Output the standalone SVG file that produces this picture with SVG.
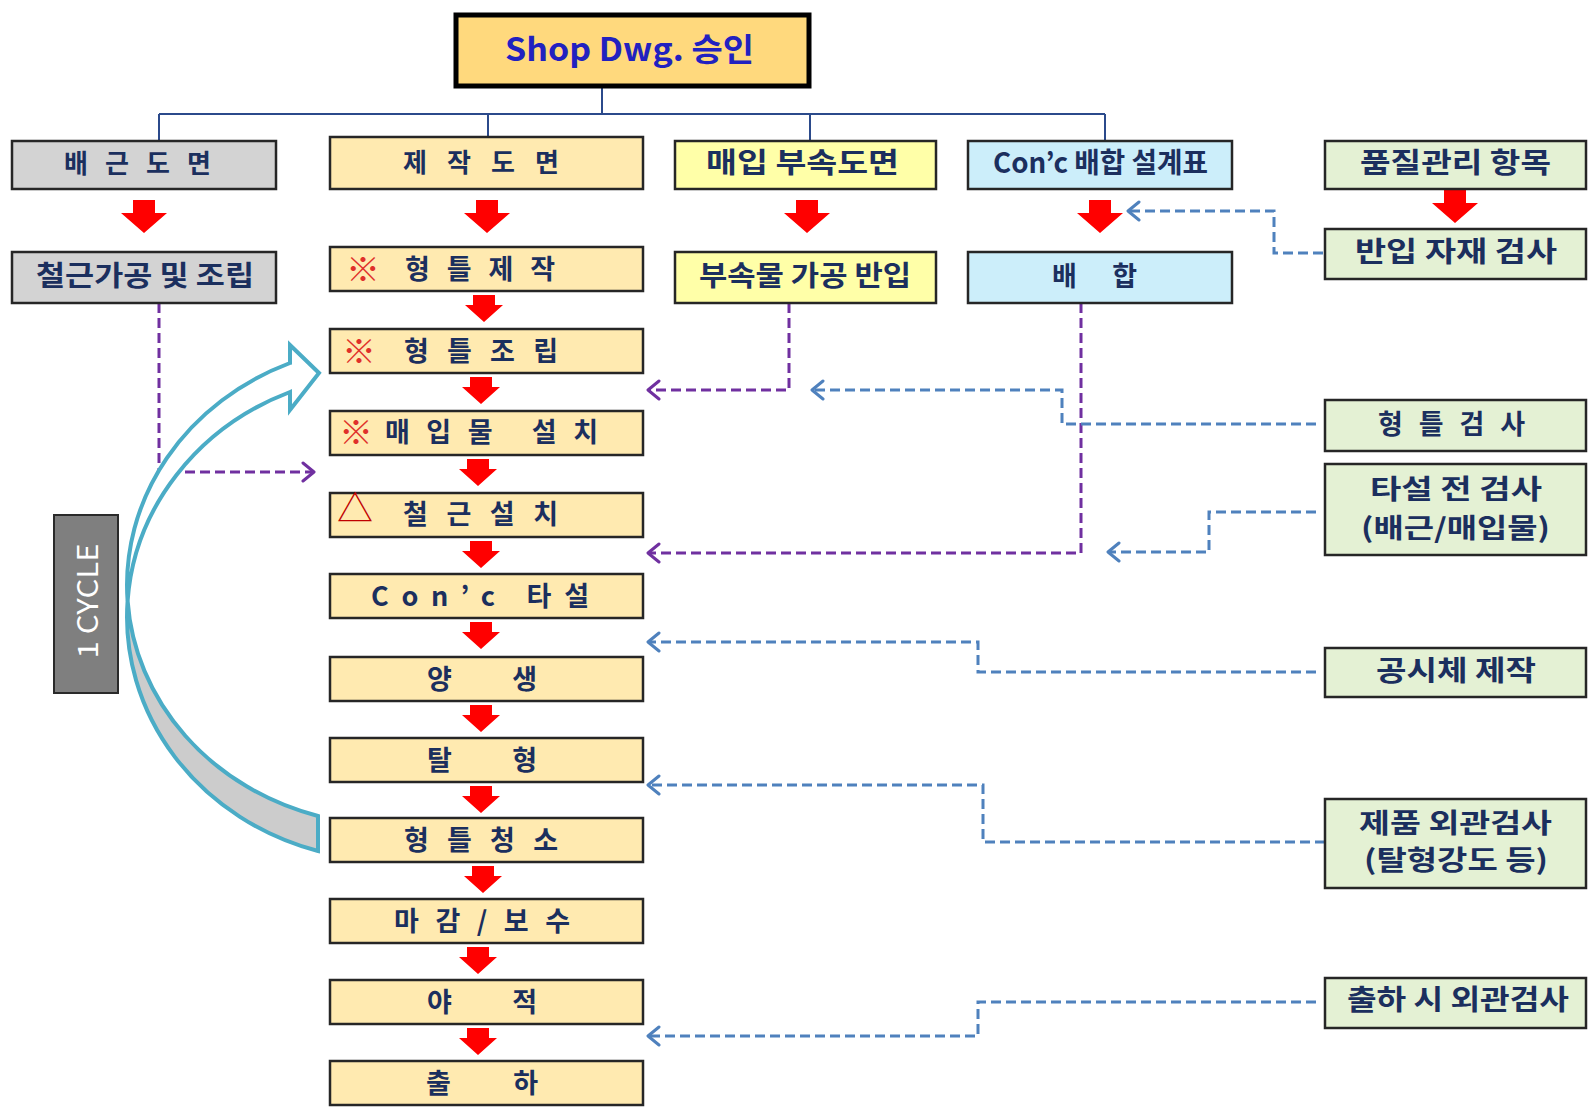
<svg xmlns="http://www.w3.org/2000/svg" width="1592" height="1110" viewBox="0 0 1592 1110">
  <defs>
    <style>
      .box{stroke:#262626;stroke-width:2.5}
      .gray{fill:#D3D3D3}
      .orange{fill:#FFEAB0}
      .yellow{fill:#FFFFA8}
      .sky{fill:#CCEEFA}
      .green{fill:#E4F1D4}
      .t{font-family:"Noto Sans CJK KR","Noto Sans",sans-serif;font-weight:700;fill:#1B2F5E;dominant-baseline:central;text-anchor:start}
      .mk{font-family:"Noto Sans CJK KR","Noto Sans",sans-serif;font-weight:400;dominant-baseline:central;text-anchor:middle}
      .tree{fill:none;stroke:#2B4A8B;stroke-width:2}
      .blue{fill:none;stroke:#4F81BD;stroke-width:3;stroke-dasharray:10 5}
      .purple{fill:none;stroke:#7030A0;stroke-width:3;stroke-dasharray:10 5}
    </style>
    <marker id="hb" markerUnits="userSpaceOnUse" markerWidth="16" markerHeight="22" refX="13" refY="11" orient="auto">
      <path d="M2,2 L13,11 L2,20" fill="none" stroke="#4F81BD" stroke-width="3" stroke-linejoin="round" stroke-linecap="round"/>
    </marker>
    <marker id="hp" markerUnits="userSpaceOnUse" markerWidth="16" markerHeight="22" refX="13" refY="11" orient="auto">
      <path d="M2,2 L13,11 L2,20" fill="none" stroke="#7030A0" stroke-width="3" stroke-linejoin="round" stroke-linecap="round"/>
    </marker>
    <!-- red block arrows: small for the process column, large for the header rows -->
    <path id="arrS" fill="#FF0000" d="M-11,0 H11 V10 H19 L0,27 L-19,10 H-11 Z"/>
    <path id="arrL" fill="#FF0000" d="M-11,0 H11 V13 H23 L0,33 L-23,13 H-11 Z"/>
  </defs>

  <rect width="1592" height="1110" fill="#FFFFFF"/>

  <!-- connectors -->
  <g id="connectors">
    <path class="tree" d="M602,88 V114 M159,114 H1105 M159,114 V141 M488,114 V137 M810,114 V141 M1105,114 V141"/>
    <!-- drawing / material feeds -->
    <path class="purple" marker-end="url(#hp)" d="M159,303 V472 H314"/>
    <path class="purple" marker-end="url(#hp)" d="M789,303 V390 H648"/>
    <path class="purple" marker-end="url(#hp)" d="M1081,303 V553 H648"/>
    <!-- quality checks -->
    <path class="blue" marker-end="url(#hb)" d="M1323,253 H1274 V211 H1128"/>
    <path class="blue" marker-end="url(#hb)" d="M1316,424 H1062 V390 H812"/>
    <path class="blue" marker-end="url(#hb)" d="M1316,512 H1209 V552 H1108"/>
    <path class="blue" marker-end="url(#hb)" d="M1316,672 H978 V642 H648"/>
    <path class="blue" marker-end="url(#hb)" d="M1325,842 H983 V785 H648"/>
    <path class="blue" marker-end="url(#hb)" d="M1316,1002 H978 V1036 H648"/>
    <!-- flow arrows -->
    <use href="#arrL" x="144" y="200"/>
    <use href="#arrL" x="487" y="200"/>
    <use href="#arrL" x="807" y="200"/>
    <use href="#arrL" x="1100" y="200"/>
    <use href="#arrL" x="1455" y="190"/>
    <use href="#arrS" x="484" y="295"/>
    <use href="#arrS" x="481" y="377"/>
    <use href="#arrS" x="478" y="459"/>
    <use href="#arrS" x="481" y="541"/>
    <use href="#arrS" x="481" y="622"/>
    <use href="#arrS" x="481" y="705"/>
    <use href="#arrS" x="481" y="786"/>
    <use href="#arrS" x="483" y="866"/>
    <use href="#arrS" x="478" y="947"/>
    <use href="#arrS" x="478" y="1028"/>
  </g>

  <!-- cycle return arrow: back band (gray) then front band with head -->
  <g id="cycle-arrow" stroke="#4BACC6" stroke-width="4" stroke-linejoin="miter">
    <path fill="#CCCCCC" d="M127.6,600.9 A263,240.1 0 0 0 318,816 L318,851 A263,243.3 0 0 1 127.6,600.9 Z"/>
    <path fill="#FFFFFF" d="M127.6,600.9 A263,240.1 0 0 1 290,363 L290,345 L319,373 L290,410 L290,392 A263,243.3 0 0 0 127.6,600.9 Z"/>
  </g>

  <g id="cycle-label">
    <rect x="54" y="515" width="64" height="178" fill="#7F7F7F" stroke="#2A2A2A" stroke-width="2"/>
    <text class="mk" x="86" y="601" font-size="28" fill="#FFFFFF" textLength="115" lengthAdjust="spacingAndGlyphs" transform="rotate(-90 86 601)">1 CYCLE</text>
  </g>

  <!-- header -->
  <g id="shop-dwg">
    <rect x="456" y="15" width="353" height="71" fill="#FFD97D" stroke="#000000" stroke-width="5"/>
    <text class="t" x="505" y="47" font-size="32" style="fill:#2121C0" textLength="249" lengthAdjust="spacingAndGlyphs">Shop Dwg. 승인</text>
  </g>

  <!-- top row -->
  <g id="rebar-dwg">
    <rect class="box gray" x="12" y="141" width="264" height="48"/>
    <text class="t" x="64" y="161" font-size="26" textLength="147" lengthAdjust="spacing">배근도면</text>
  </g>
  <g id="fab-dwg">
    <rect class="box orange" x="330" y="137" width="313" height="52"/>
    <text class="t" x="403" y="160" font-size="26" textLength="156" lengthAdjust="spacing">제작도면</text>
  </g>
  <g id="insert-dwg">
    <rect class="box yellow" x="675" y="141" width="261" height="48"/>
    <text class="t" x="706" y="161" font-size="28" textLength="193" lengthAdjust="spacingAndGlyphs">매입 부속도면</text>
  </g>
  <g id="mix-design">
    <rect class="box sky" x="968" y="141" width="264" height="48"/>
    <text class="t" x="993" y="161" font-size="28" textLength="215" lengthAdjust="spacingAndGlyphs">Con’c 배합 설계표</text>
  </g>
  <g id="qc-items">
    <rect class="box green" x="1325" y="141" width="261" height="48"/>
    <text class="t" x="1360" y="161" font-size="28" textLength="191" lengthAdjust="spacingAndGlyphs">품질관리 항목</text>
  </g>

  <!-- second row -->
  <g id="rebar-work">
    <rect class="box gray" x="12" y="252" width="264" height="51"/>
    <text class="t" x="36" y="274" font-size="28" textLength="218" lengthAdjust="spacingAndGlyphs">철근가공 및 조립</text>
  </g>
  <g id="insert-supply">
    <rect class="box yellow" x="675" y="252" width="261" height="51"/>
    <text class="t" x="699" y="274" font-size="28" textLength="212" lengthAdjust="spacingAndGlyphs">부속물 가공 반입</text>
  </g>
  <g id="mixing">
    <rect class="box sky" x="968" y="252" width="264" height="51"/>
    <text class="t" x="1052" y="274" font-size="27" textLength="85" lengthAdjust="spacing">배합</text>
  </g>
  <g id="incoming-check">
    <rect class="box green" x="1325" y="229" width="261" height="50"/>
    <text class="t" x="1355" y="250" font-size="28" textLength="202" lengthAdjust="spacingAndGlyphs">반입 자재 검사</text>
  </g>

  <!-- process column -->
  <g id="form-make">
    <rect class="box orange" x="330" y="247" width="313" height="44"/>
    <text class="mk" x="363" y="267" font-size="34" fill="#E0302A">※</text>
    <text class="t" x="405" y="267" font-size="27" textLength="150" lengthAdjust="spacing">형틀제작</text>
  </g>
  <g id="form-assembly">
    <rect class="box orange" x="330" y="329" width="313" height="44"/>
    <text class="mk" x="359" y="349" font-size="34" fill="#E0302A">※</text>
    <text class="t" x="404" y="349" font-size="27" textLength="154" lengthAdjust="spacing">형틀조립</text>
  </g>
  <g id="insert-install">
    <rect class="box orange" x="330" y="411" width="313" height="44"/>
    <text class="mk" x="356" y="430" font-size="34" fill="#E0302A">※</text>
    <text class="t" x="385" y="430" font-size="27" textLength="213" lengthAdjust="spacing">매입물 설치</text>
  </g>
  <g id="rebar-install">
    <rect class="box orange" x="330" y="493" width="313" height="44"/>
    <text class="mk" x="355" y="506" font-size="36" fill="#C00000">△</text>
    <text class="t" x="403" y="512" font-size="27" textLength="155" lengthAdjust="spacing">철근설치</text>
  </g>
  <g id="pouring">
    <rect class="box orange" x="330" y="574" width="313" height="44"/>
    <text class="t" x="371" y="594" font-size="27" textLength="218" lengthAdjust="spacing">Con’c 타설</text>
  </g>
  <g id="curing">
    <rect class="box orange" x="330" y="657" width="313" height="44"/>
    <text class="t" x="427" y="677" font-size="27" textLength="110" lengthAdjust="spacing">양생</text>
  </g>
  <g id="demolding">
    <rect class="box orange" x="330" y="738" width="313" height="44"/>
    <text class="t" x="427" y="758" font-size="27" textLength="110" lengthAdjust="spacing">탈형</text>
  </g>
  <g id="form-cleaning">
    <rect class="box orange" x="330" y="818" width="313" height="44"/>
    <text class="t" x="404" y="838" font-size="27" textLength="154" lengthAdjust="spacing">형틀청소</text>
  </g>
  <g id="finishing">
    <rect class="box orange" x="330" y="899" width="313" height="44"/>
    <text class="t" x="394" y="919" font-size="27" textLength="176" lengthAdjust="spacing">마감/보수</text>
  </g>
  <g id="stockyard">
    <rect class="box orange" x="330" y="980" width="313" height="44"/>
    <text class="t" x="427" y="1000" font-size="27" textLength="110" lengthAdjust="spacing">야적</text>
  </g>
  <g id="shipping">
    <rect class="box orange" x="330" y="1061" width="313" height="44"/>
    <text class="t" x="426" y="1081" font-size="27" textLength="112" lengthAdjust="spacing">출하</text>
  </g>

  <!-- inspection column -->
  <g id="form-check">
    <rect class="box green" x="1325" y="400" width="261" height="51"/>
    <text class="t" x="1378" y="422" font-size="27" textLength="147" lengthAdjust="spacing">형틀검사</text>
  </g>
  <g id="pre-pour-check">
    <rect class="box green" x="1325" y="464" width="261" height="91"/>
    <text class="t" x="1370" y="487" font-size="27" textLength="172" lengthAdjust="spacingAndGlyphs">타설 전 검사</text>
    <text class="t" x="1361" y="526" font-size="27" textLength="189" lengthAdjust="spacingAndGlyphs">(배근/매입물)</text>
  </g>
  <g id="specimen">
    <rect class="box green" x="1325" y="648" width="261" height="49"/>
    <text class="t" x="1376" y="669" font-size="28" textLength="160" lengthAdjust="spacingAndGlyphs">공시체 제작</text>
  </g>
  <g id="product-check">
    <rect class="box green" x="1325" y="799" width="261" height="89"/>
    <text class="t" x="1359" y="821" font-size="27" textLength="193" lengthAdjust="spacingAndGlyphs">제품 외관검사</text>
    <text class="t" x="1364" y="858" font-size="27" textLength="184" lengthAdjust="spacingAndGlyphs">(탈형강도 등)</text>
  </g>
  <g id="shipping-check">
    <rect class="box green" x="1325" y="978" width="261" height="50"/>
    <text class="t" x="1347" y="998" font-size="28" textLength="222" lengthAdjust="spacingAndGlyphs">출하 시  외관검사</text>
  </g>
</svg>
